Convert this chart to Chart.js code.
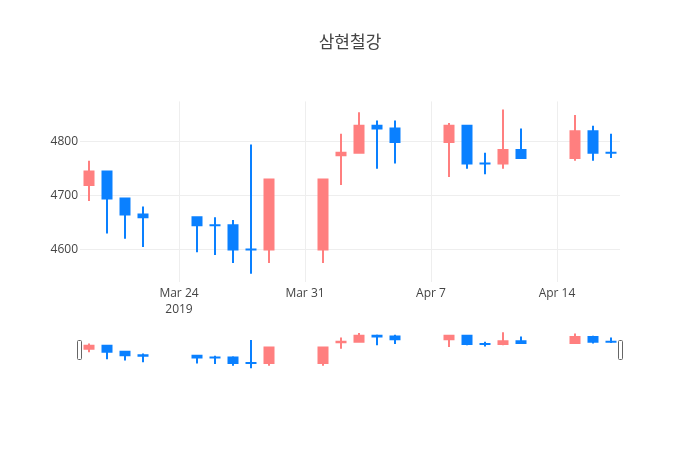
<!DOCTYPE html>
<html>
<head>
<meta charset="utf-8">
<script src="https://cdn.jsdelivr.net/npm/chart.js@4.4.1/dist/chart.umd.min.js"></script>
<style>
html,body{margin:0;padding:0;background:#fff;}
#wrap{position:relative;width:700px;height:450px;overflow:hidden;}
#main{position:absolute;left:0;top:0;width:700px;height:450px;}
#slider{position:absolute;left:0;top:320px;width:700px;height:60px;}
</style>
</head>
<body>
<div id="wrap">
<canvas id="main" width="700" height="450"></canvas>
<canvas id="slider" width="700" height="60"></canvas>
</div>
<script>
const chartTitle = '삼현철강';
const dates = ['2019-03-19','2019-03-20','2019-03-21','2019-03-22','2019-03-25','2019-03-26','2019-03-27','2019-03-28','2019-03-29',
               '2019-04-01','2019-04-02','2019-04-03','2019-04-04','2019-04-05','2019-04-08','2019-04-09','2019-04-10','2019-04-11',
               '2019-04-12','2019-04-15','2019-04-16','2019-04-17'];
const opens  = [4720,4745,4695,4665,4660,4645,4645,4600,4600,4600,4775,4780,4830,4825,4800,4830,4760,4760,4785,4770,4820,4780];
const highs  = [4765,4745,4695,4680,4660,4660,4655,4795,4730,4730,4815,4855,4840,4840,4835,4830,4780,4860,4825,4850,4830,4815];
const lows   = [4690,4630,4620,4605,4595,4590,4575,4555,4575,4575,4720,4780,4750,4760,4735,4750,4740,4750,4770,4765,4765,4770];
const closes = [4745,4695,4665,4660,4645,4645,4600,4600,4730,4730,4780,4830,4825,4800,4830,4760,4760,4785,4770,4820,4780,4780];
const xTickDates  = ['2019-03-24','2019-03-31','2019-04-07','2019-04-14'];
const xTickLabels = [['Mar 24','2019'],'Mar 31','Apr 7','Apr 14'];
const yTickValues = [4600,4700,4800];

const UP = '#ff7f7f';
const DOWN = '#0a80ff';
const FONT = "'Open Sans', 'Noto Sans CJK KR', sans-serif";

function dayNum(d){
  return (Date.parse(d + 'T00:00:00Z') - Date.parse('2019-03-01T00:00:00Z')) / 864e5 + 1;
}
const xs = dates.map(dayNum);
const xMin = xs[0] - 0.5, xMax = xs[xs.length - 1] + 0.5;
const lo = Math.min(...lows), hi = Math.max(...highs);
const pad = (hi - lo) * 0.05;
const yMin = lo - pad, yMax = hi + pad;
const tickXs = xTickDates.map(dayNum);

const colorFor = (c) => closes[c.dataIndex] > opens[c.dataIndex] ? UP : DOWN;

function makeDatasets(){
  return [
    {
      label: 'wick',
      data: xs.map((x, i) => ({x: x, y: [lows[i], highs[i]]})),
      backgroundColor: colorFor,
      barThickness: 2,
      inflateAmount: 0,
      grouped: false,
      borderWidth: 0
    },
    {
      label: 'body',
      data: xs.map((x, i) => ({x: x, y: [opens[i], closes[i]]})),
      backgroundColor: colorFor,
      barThickness: 9,
      inflateAmount: 1,
      grouped: false,
      borderWidth: 0
    }
  ];
}

new Chart(document.getElementById('main'), {
  type: 'bar',
  data: { datasets: makeDatasets() },
  options: {
    responsive: false,
    animation: false,
    layout: { padding: { left: 0, right: 0, top: 0, bottom: 0 } },
    plugins: {
      legend: { display: false },
      tooltip: { enabled: false },
      title: {
        display: true,
        text: chartTitle,
        color: '#444',
        font: { family: FONT, size: 17, weight: 'normal', lineHeight: 1.2 },
        padding: { top: 33, bottom: 48 }
      }
    },
    scales: {
      x: {
        type: 'linear',
        min: xMin, max: xMax,
        offset: false,
        grid: { color: '#eeeeee', drawTicks: false, offset: false },
        border: { display: false },
        afterBuildTicks: (s) => { s.ticks = tickXs.map(v => ({value: v})); },
        afterFit: (s) => { s.height = 168; },
        ticks: {
          color: '#444',
          font: { family: FONT, size: 12, lineHeight: 1.3333 },
          padding: 4,
          maxRotation: 0,
          autoSkip: false,
          callback: (v) => { const k = tickXs.indexOf(v); return k >= 0 ? xTickLabels[k] : ''; }
        }
      },
      y: {
        type: 'linear',
        min: yMin, max: yMax,
        beginAtZero: false,
        grid: { color: '#eeeeee', drawTicks: false },
        border: { display: false },
        afterBuildTicks: (s) => { s.ticks = yTickValues.map(v => ({value: v})); },
        afterFit: (s) => { s.width = 80; },
        ticks: {
          color: '#444',
          font: { family: FONT, size: 12 },
          padding: 2,
          callback: (v) => String(v)
        }
      },
      yRight: {
        type: 'linear',
        position: 'right',
        min: yMin, max: yMax,
        grid: { display: false, drawTicks: false },
        border: { display: false },
        ticks: { display: false },
        afterFit: (s) => { s.width = 80; }
      }
    }
  }
});

const handlePlugin = {
  id: 'handles',
  afterDraw(chart){
    const {ctx, chartArea: a} = chart;
    const mid = Math.round((a.top + a.bottom) / 2);
    const pos = [a.left - 2.5, a.right - 1.5];
    ctx.save();
    pos.forEach(px => {
      ctx.beginPath();
      if (ctx.roundRect) ctx.roundRect(px, mid - 9.5, 4, 19, 1); else ctx.rect(px, mid - 9.5, 4, 19);
      ctx.fillStyle = '#fff';
      ctx.fill();
      ctx.lineWidth = 1;
      ctx.strokeStyle = '#666';
      ctx.stroke();
    });
    ctx.restore();
  }
};

new Chart(document.getElementById('slider'), {
  type: 'bar',
  data: { datasets: makeDatasets() },
  plugins: [handlePlugin],
  options: {
    responsive: false,
    animation: false,
    layout: { padding: { left: 80, right: 80, top: 10.5, bottom: 10 } },
    plugins: { legend: { display: false }, tooltip: { enabled: false }, title: { display: false } },
    scales: {
      x: { type: 'linear', min: xMin, max: xMax, offset: false, display: false, grid: { offset: false } },
      y: { type: 'linear', min: yMin, max: yMax, beginAtZero: false, display: false }
    }
  }
});
</script>
</body>
</html>
